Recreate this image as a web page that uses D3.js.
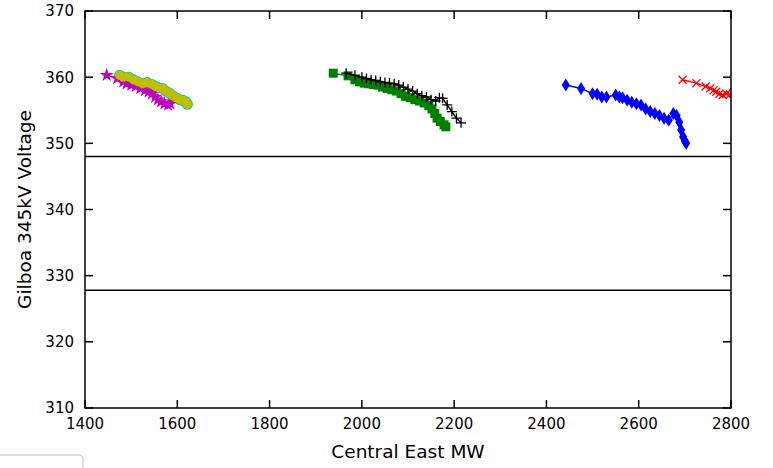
<!DOCTYPE html>
<html><head><meta charset="utf-8">
<script src="https://cdn.jsdelivr.net/npm/d3@7"></script>
<style>body{margin:0;background:#fff}svg{display:block}text{font-family:"DejaVu Sans",sans-serif}</style>
</head><body><svg id="c" width="773" height="468"></svg>
<script>
const xTicks=[1400,1600,1800,2000,2200,2400,2600,2800];
const yTicks=[310,320,330,340,350,360,370];
const limitLines=[348,327.8];
const blueMW=[2442,2475,2500,2510,2520,2530,2550,2558,2565,2575,2585,2595,2605,2615,2625,2635,2645,2655,2665,2675,2682,2688,2692,2696,2700,2703];
const blueKV=[358.8,358.3,357.5,357.4,357.0,357.0,357.3,357.0,356.9,356.5,356.2,356.0,355.8,355.2,354.8,354.5,354.2,353.8,353.5,354.5,354.2,353.2,352.0,351.0,350.3,350.0];
const greenMW=[1938,1970,1985,1995,2005,2015,2025,2035,2045,2055,2065,2075,2085,2095,2105,2115,2125,2135,2145,2152,2158,2163,2170,2178,2182];
const greenKV=[360.6,360.2,359.6,359.3,359.1,359.0,358.9,358.8,358.5,358.3,358.1,357.9,357.5,357.1,356.9,356.6,356.4,356.1,355.7,355.2,354.5,353.8,353.3,352.8,352.5];
const redMW=[2695,2725,2745,2755,2762,2768,2775,2782,2790,2798,2806];
const redKV=[359.6,359.1,358.6,358.3,358.0,357.8,357.5,357.3,357.5,357.4,357.6];
const cyanMW=[1475,1483,1495,1505,1515,1525,1535,1545,1553,1560,1568,1575,1583,1590,1597,1605,1612,1618,1622,1620];
const cyanKV=[360.3,360.0,360.0,359.6,359.3,359.0,359.2,358.9,358.6,358.4,358.3,357.9,357.6,357.2,356.9,356.6,356.5,356.3,355.9,356.1];
const magentaMW=[1447,1470,1483,1490,1500,1510,1520,1530,1538,1545,1552,1558,1565,1572,1580,1585];
const magentaKV=[360.3,359.8,359.3,359.0,358.8,358.6,358.3,358.0,357.8,357.5,357.0,356.6,356.3,356.0,355.8,356.0];
const yellowMW=cyanMW, yellowKV=cyanKV;
const blackMW=[1966,1985,2000,2010,2020,2030,2040,2050,2060,2070,2080,2090,2100,2110,2120,2130,2140,2150,2160,2168,2175,2185,2195,2205,2215];
const blackKV=[360.6,360.3,360.0,359.8,359.6,359.5,359.3,359.2,359.1,359.0,358.8,358.5,358.2,357.9,357.5,357.2,357.0,356.6,356.4,356.9,356.8,355.8,354.8,353.8,353.1];

const L=85,R=731,T=11,B=408;
const svg=d3.select("#c");
const x=d3.scaleLinear().domain([1400,2800]).range([L,R]);
const y=d3.scaleLinear().domain([310,370]).range([B,T]);
svg.append("defs").append("clipPath").attr("id","clip").append("rect").attr("x",L).attr("y",T).attr("width",R-L).attr("height",B-T);

const g=svg.append("g").attr("clip-path","url(#clip)");
limitLines.forEach(v=>g.append("line").attr("x1",L).attr("x2",R).attr("y1",y(v)).attr("y2",y(v)).attr("stroke","#000").attr("stroke-width",1.5));

const plus=s=>`M${-s},0H${s}M0,${-s}V${s}`;
const cross=s=>`M${-s},${-s}L${s},${s}M${-s},${s}L${s},${-s}`;
const diamond=`M0,-6.5L4,0L0,6.5L-4,0Z`;
const series=[
 {mw:blueMW,kv:blueKV,c:"#0000ff",m:"diamond"},
 {mw:greenMW,kv:greenKV,c:"#008000",m:"square"},
 {mw:redMW,kv:redKV,c:"#ff0000",m:"x"},
 {mw:cyanMW,kv:cyanKV,c:"#00bfbf",m:"circle",r:5.5},
 {mw:magentaMW,kv:magentaKV,c:"#bf00bf",m:"star"},
 {mw:yellowMW,kv:yellowKV,c:"#bfbf00",m:"circle",r:4.6},
 {mw:blackMW,kv:blackKV,c:"#000000",m:"plus"}
];
const line=d3.line().x(d=>x(d[0])).y(d=>y(d[1]));
series.forEach(s=>{
  const pts=s.mw.map((v,i)=>[v,s.kv[i]]);
  g.append("path").attr("d",line(pts)).attr("fill","none").attr("stroke",s.c).attr("stroke-width",1.5);
  const mg=g.append("g");
  pts.forEach(p=>{
    const t=`translate(${x(p[0])},${y(p[1])})`;
    if(s.m==="plus") mg.append("path").attr("d",plus(5)).attr("transform",t).attr("stroke",s.c).attr("stroke-width",1.3).attr("fill","none");
    else if(s.m==="x") mg.append("path").attr("d",cross(4)).attr("transform",t).attr("stroke",s.c).attr("stroke-width",1.3).attr("fill","none");
    else if(s.m==="diamond") mg.append("path").attr("d",diamond).attr("transform",t).attr("fill",s.c);
    else if(s.m==="square") mg.append("rect").attr("x",x(p[0])-4.5).attr("y",y(p[1])-4.5).attr("width",9).attr("height",9).attr("fill",s.c);
    else if(s.m==="circle") mg.append("circle").attr("cx",x(p[0])).attr("cy",y(p[1])).attr("r",s.r).attr("fill",s.c);
    else if(s.m==="star") mg.append("path").attr("d",d3.symbol(d3.symbolStar,60)()).attr("transform",t).attr("fill",s.c);
  });
});

const tl=8;
const ax=svg.append("g");
ax.append("rect").attr("x",L).attr("y",T).attr("width",R-L).attr("height",B-T).attr("fill","none").attr("stroke","#000").attr("stroke-width",1.5);
xTicks.forEach(v=>{
  ax.append("line").attr("x1",x(v)).attr("x2",x(v)).attr("y1",B).attr("y2",B-tl).attr("stroke","#000").attr("stroke-width",1.5);
  ax.append("line").attr("x1",x(v)).attr("x2",x(v)).attr("y1",T).attr("y2",T+tl).attr("stroke","#000").attr("stroke-width",1.5);
  ax.append("text").attr("x",x(v)).attr("y",B+10).attr("dy","0.76em").attr("text-anchor","middle").attr("font-size",15).text(v);
});
yTicks.forEach(v=>{
  ax.append("line").attr("x1",L).attr("x2",L+tl).attr("y1",y(v)).attr("y2",y(v)).attr("stroke","#000").attr("stroke-width",1.5);
  ax.append("line").attr("x1",R).attr("x2",R-tl).attr("y1",y(v)).attr("y2",y(v)).attr("stroke","#000").attr("stroke-width",1.5);
  ax.append("text").attr("x",L-11).attr("y",y(v)).attr("dy","0.36em").attr("text-anchor","end").attr("font-size",15).text(v);
});
svg.append("text").attr("x",(L+R)/2).attr("y",458).attr("text-anchor","middle").attr("font-size",18.5).text("Central East MW");
svg.append("text").attr("transform",`translate(31,${(T+B)/2}) rotate(-90)`).attr("text-anchor","middle").attr("font-size",18.5).text("Gilboa 345kV Voltage");
svg.append("rect").attr("x",-40).attr("y",455).attr("width",123).attr("height",60).attr("rx",4).attr("fill","#fff").attr("fill-opacity",0.8).attr("stroke","#d6d6d6").attr("stroke-width",1.5);
</script></body></html>
